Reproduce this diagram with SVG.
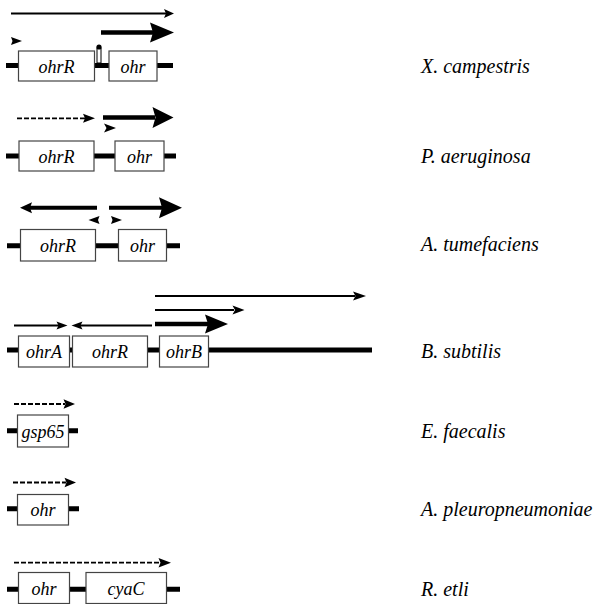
<svg xmlns="http://www.w3.org/2000/svg" width="605" height="604" viewBox="0 0 605 604">
<rect width="605" height="604" fill="#fff"/>
<g id="dna-lines" stroke="#000" stroke-width="5" fill="none">
<line x1="6" y1="65.5" x2="173" y2="65.5"/>
<line x1="6" y1="156" x2="176" y2="156"/>
<line x1="7" y1="245.8" x2="180" y2="245.8"/>
<line x1="7" y1="350" x2="372" y2="350"/>
<line x1="7" y1="430.8" x2="78" y2="430.8"/>
<line x1="7" y1="508.8" x2="79" y2="508.8"/>
<line x1="7" y1="589.2" x2="180" y2="589.2"/>
</g>
<g id="terminator">
<rect x="97" y="48" width="4" height="15" fill="#fff" stroke="#000" stroke-width="1"/>
<circle cx="99" cy="47" r="2.6" fill="#000"/>
</g>
<g id="genes">
<g id="xc-ohrR"><rect fill="#fff" stroke="#444" stroke-width="1.2" x="18.5" y="51" width="76" height="30"/><text font-family="Liberation Serif" font-size="18" font-style="italic" text-anchor="middle" x="56.5" y="73">ohrR</text></g>
<g id="xc-ohr"><rect fill="#fff" stroke="#444" stroke-width="1.2" x="109" y="51" width="48" height="30"/><text font-family="Liberation Serif" font-size="18" font-style="italic" text-anchor="middle" x="133" y="73">ohr</text></g>
<g id="pa-ohrR"><rect fill="#fff" stroke="#444" stroke-width="1.2" x="19" y="141" width="75" height="30"/><text font-family="Liberation Serif" font-size="18" font-style="italic" text-anchor="middle" x="56.5" y="163">ohrR</text></g>
<g id="pa-ohr"><rect fill="#fff" stroke="#444" stroke-width="1.2" x="115" y="141" width="49" height="30"/><text font-family="Liberation Serif" font-size="18" font-style="italic" text-anchor="middle" x="139.5" y="163">ohr</text></g>
<g id="at-ohrR"><rect fill="#fff" stroke="#444" stroke-width="1.2" x="20.5" y="229.5" width="75" height="31.5"/><text font-family="Liberation Serif" font-size="18" font-style="italic" text-anchor="middle" x="58" y="252">ohrR</text></g>
<g id="at-ohr"><rect fill="#fff" stroke="#444" stroke-width="1.2" x="118.5" y="229.5" width="48" height="31.5"/><text font-family="Liberation Serif" font-size="18" font-style="italic" text-anchor="middle" x="142.5" y="252">ohr</text></g>
<g id="bs-ohrA"><rect fill="#fff" stroke="#444" stroke-width="1.2" x="18.5" y="336" width="51" height="31"/><text font-family="Liberation Serif" font-size="18" font-style="italic" text-anchor="middle" x="44" y="358">ohrA</text></g>
<g id="bs-ohrR"><rect fill="#fff" stroke="#444" stroke-width="1.2" x="72.5" y="336" width="75" height="31"/><text font-family="Liberation Serif" font-size="18" font-style="italic" text-anchor="middle" x="110" y="358">ohrR</text></g>
<g id="bs-ohrB"><rect fill="#fff" stroke="#444" stroke-width="1.2" x="159.5" y="336" width="49" height="31"/><text font-family="Liberation Serif" font-size="18" font-style="italic" text-anchor="middle" x="184" y="358">ohrB</text></g>
<g id="ef-gsp65"><rect fill="#fff" stroke="#444" stroke-width="1.2" x="17.5" y="415" width="51" height="32"/><text font-family="Liberation Serif" font-size="18" font-style="italic" text-anchor="middle" x="43" y="438">gsp65</text></g>
<g id="ap-ohr"><rect fill="#fff" stroke="#444" stroke-width="1.2" x="17.5" y="494.5" width="51" height="30.5"/><text font-family="Liberation Serif" font-size="18" font-style="italic" text-anchor="middle" x="43" y="516">ohr</text></g>
<g id="re-ohr"><rect fill="#fff" stroke="#444" stroke-width="1.2" x="18.5" y="572.5" width="51" height="31"/><text font-family="Liberation Serif" font-size="18" font-style="italic" text-anchor="middle" x="44" y="595">ohr</text></g>
<g id="re-cyaC"><rect fill="#fff" stroke="#444" stroke-width="1.2" x="86" y="572.5" width="80.5" height="31"/><text font-family="Liberation Serif" font-size="18" font-style="italic" text-anchor="middle" x="126" y="595">cyaC</text></g>
</g>
<g id="transcripts" stroke="#000" fill="none">
<g stroke-width="2">
<line x1="11" y1="13.5" x2="166" y2="13.5"/>
<line x1="155" y1="296" x2="355" y2="296"/>
<line x1="155" y1="310" x2="234" y2="310"/>
<line x1="14" y1="325.5" x2="59" y2="325.5"/>
<line x1="80" y1="325.5" x2="152" y2="325.5"/>
</g>
<g stroke-width="4.5">
<line x1="101" y1="32.5" x2="153" y2="32.5"/>
<line x1="103" y1="117.5" x2="155" y2="117.5"/>
<line x1="29" y1="207.7" x2="97" y2="207.7" stroke-width="4"/>
<line x1="109" y1="207.7" x2="162" y2="207.7" stroke-width="4"/>
<line x1="155" y1="324" x2="208" y2="324"/>
</g>
<g stroke-width="1.8" stroke-dasharray="5 2">
<line x1="17" y1="118.3" x2="86" y2="118.3"/>
<line x1="14" y1="404" x2="65" y2="404"/>
<line x1="13" y1="482.5" x2="66" y2="482.5"/>
<line x1="14" y1="562.7" x2="160" y2="562.7"/>
</g>
<g fill="#000" stroke="none">
<path d="M174,13.5 L164,9 L166,13.5 L164,18 Z"/>
<path d="M174,32.5 L150,22.5 L153,32.5 L150,42.5 Z"/>
<path d="M22,41 L11,37 L12.5,41 L11,45 Z"/>
<path d="M95,118.3 L83,113.8 L85,118.3 L83,122.8 Z"/>
<path d="M173.5,117.5 L152.5,107 L155.5,117.5 L152.5,128 Z"/>
<path d="M116,128 L104,123.5 L106.5,128 L104,132.5 Z"/>
<path d="M20,207.7 L32,202.2 L30,207.7 L32,213.2 Z"/>
<path d="M182,207.7 L159,197.2 L162,207.7 L159,218.2 Z"/>
<path d="M88.5,220 L99.5,216 L98,220 L99.5,224 Z"/>
<path d="M122,220 L111,216 L112.5,220 L111,224 Z"/>
<path d="M366,296 L353,291.5 L355.5,296 L353,300.5 Z"/>
<path d="M244.5,310 L232.5,305.5 L235,310 L232.5,314.5 Z"/>
<path d="M228,324 L205,314.5 L208,324 L205,333.5 Z"/>
<path d="M67.5,325.5 L56.5,321.5 L58.5,325.5 L56.5,329.5 Z"/>
<path d="M71.5,325.5 L82.5,321.5 L80.5,325.5 L82.5,329.5 Z"/>
<path d="M75,404 L63.5,399.2 L65.5,404 L63.5,408.8 Z"/>
<path d="M76,482.5 L64.5,477.7 L66.5,482.5 L64.5,487.3 Z"/>
<path d="M171,562.7 L158.5,557.9 L160.5,562.7 L158.5,567.5 Z"/>
</g>
</g>
<g id="species">
<text font-family="Liberation Serif" font-size="20" font-style="italic" x="421" y="73">X. campestris</text>
<text font-family="Liberation Serif" font-size="20" font-style="italic" x="421" y="163">P. aeruginosa</text>
<text font-family="Liberation Serif" font-size="20" font-style="italic" x="421" y="251">A. tumefaciens</text>
<text font-family="Liberation Serif" font-size="20" font-style="italic" x="421" y="358">B. subtilis</text>
<text font-family="Liberation Serif" font-size="20" font-style="italic" x="421" y="438">E. faecalis</text>
<text font-family="Liberation Serif" font-size="20" font-style="italic" x="421" y="516">A. pleuropneumoniae</text>
<text font-family="Liberation Serif" font-size="20" font-style="italic" x="421" y="596">R. etli</text>
</g>
</svg>
